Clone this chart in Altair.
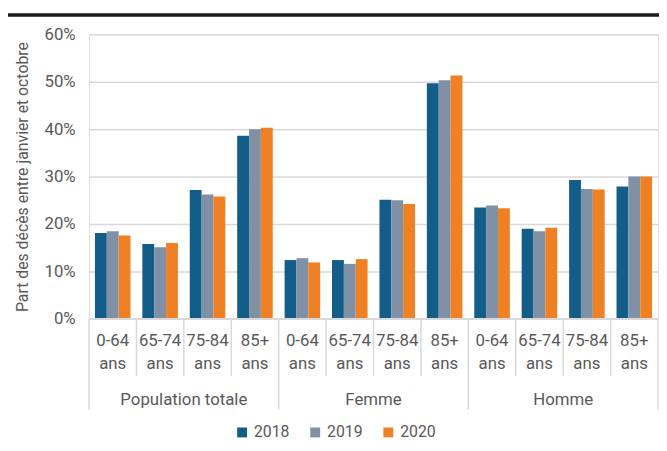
import altair as alt
import pandas as pd

groups = ["Population totale", "Femme", "Homme"]
ages = ["0-64 ans", "65-74 ans", "75-84 ans", "85+ ans"]
age_line1 = ["0-64", "65-74", "75-84", "85+"]
age_line2 = ["ans", "ans", "ans", "ans"]
years = ["2018", "2019", "2020"]
v2018 = [18.1, 15.8, 27.2, 38.6, 12.4, 12.4, 25.1, 49.7, 23.5, 19.0, 29.3, 27.9]
v2019 = [18.5, 15.1, 26.2, 40.0, 12.8, 11.6, 25.0, 50.3, 23.9, 18.5, 27.4, 30.0]
v2020 = [17.6, 16.0, 25.8, 40.3, 11.9, 12.6, 24.2, 51.3, 23.3, 19.2, 27.3, 30.0]
colors = ["#135D89", "#8091A6", "#EF8124"]
y_ticks = [0, 10, 20, 30, 40, 50, 60]

FONT = "Roboto"
TXT = "#595959"
GRID = "#D9D9D9"

keys = [g + "|" + a for g in groups for a in ages]

rows = []
for yr, vals in zip(years, [v2018, v2019, v2020]):
    for k, v in zip(keys, vals):
        rows.append({"key": k, "year": yr, "value": v})
df = pd.DataFrame(rows)

cat_df = pd.DataFrame({
    "key": keys,
    "l1": [age_line1[i % 4] for i in range(len(keys))],
    "l2": [age_line2[i % 4] for i in range(len(keys))],
    "idx": list(range(len(keys))),
})
inner_sep = cat_df[cat_df["idx"] % 4 != 0]
group_sep = cat_df[cat_df["idx"] % 4 == 0]
last_sep = cat_df[cat_df["idx"] == len(keys) - 1]
grp_lab = pd.DataFrame({"key": [g + "|" + ages[2] for g in groups], "g": groups})

xs = alt.Scale(paddingInner=0.25, paddingOuter=0.125)

bars = alt.Chart(df).mark_bar().encode(
    x=alt.X("key:N", sort=keys, scale=xs, axis=None),
    xOffset=alt.XOffset("year:N", scale=alt.Scale(paddingInner=0, paddingOuter=0)),
    y=alt.Y("value:Q", scale=alt.Scale(domain=[0, 60], nice=False),
            axis=alt.Axis(values=y_ticks, labelExpr="datum.value + '%'",
                          title="Part des décès entre janvier et octobre",
                          titleX=-59, titleY=144, titleFont=FONT, titleFontSize=16,
                          titleFontWeight="normal", titleColor=TXT,
                          labelFont=FONT, labelFontSize=17, labelColor=TXT,
                          labelPadding=14, domain=False, ticks=False,
                          grid=True, gridColor=GRID, gridWidth=1.5)),
    color=alt.Color("year:N", scale=alt.Scale(domain=years, range=colors),
                    legend=alt.Legend(orient="none", legendX=147, legendY=395,
                                      direction="horizontal", title=None,
                                      symbolType="square", symbolSize=100,
                                      symbolStrokeWidth=0, labelFont=FONT,
                                      labelFontSize=16, labelColor=TXT,
                                      columnPadding=18, labelOffset=4)),
)

one = pd.DataFrame({"a": [0]})

xline = alt.Chart(one).mark_rule(color=GRID, strokeWidth=1.5).encode(
    x=alt.value(0), x2=alt.value(576), y=alt.value(288))

cat_rules = alt.Chart(inner_sep).mark_rule(color=GRID, strokeWidth=1.5, xOffset=-6).encode(
    x=alt.X("key:N", sort=keys, bandPosition=0),
    y=alt.value(288), y2=alt.value(346))

grp_rules = alt.Chart(group_sep).mark_rule(color=GRID, strokeWidth=1.5, xOffset=-6).encode(
    x=alt.X("key:N", sort=keys, bandPosition=0),
    y=alt.value(288), y2=alt.value(380))

end_rule = alt.Chart(last_sep).mark_rule(color=GRID, strokeWidth=1.5, xOffset=6).encode(
    x=alt.X("key:N", sort=keys, bandPosition=1),
    y=alt.value(288), y2=alt.value(380))

lab1 = alt.Chart(cat_df).mark_text(font=FONT, fontSize=17, color=TXT, baseline="middle").encode(
    x=alt.X("key:N", sort=keys), y=alt.value(310), text="l1:N")
lab2 = alt.Chart(cat_df).mark_text(font=FONT, fontSize=17, color=TXT, baseline="middle").encode(
    x=alt.X("key:N", sort=keys), y=alt.value(334), text="l2:N")
glab = alt.Chart(grp_lab).mark_text(font=FONT, fontSize=17, color=TXT, baseline="middle", xOffset=-6).encode(
    x=alt.X("key:N", sort=keys, bandPosition=0), y=alt.value(370), text="g:N")

topbar = alt.Chart(one).mark_rule(color="#1A1A1A", strokeWidth=3.5).encode(
    x=alt.value(-83), x2=alt.value(577), y=alt.value(-19.5))

chart = alt.layer(bars, xline, cat_rules, grp_rules, end_rule, lab1, lab2, glab, topbar).properties(
    width=576, height=288,
    padding={"left": 82, "top": 24, "right": 1, "bottom": 123},
    autosize=alt.AutoSizeParams(type="none"),
).configure_view(stroke=None).configure(background="white")

chart.save("out.html", embed_options={"renderer": "svg", "actions": False})
